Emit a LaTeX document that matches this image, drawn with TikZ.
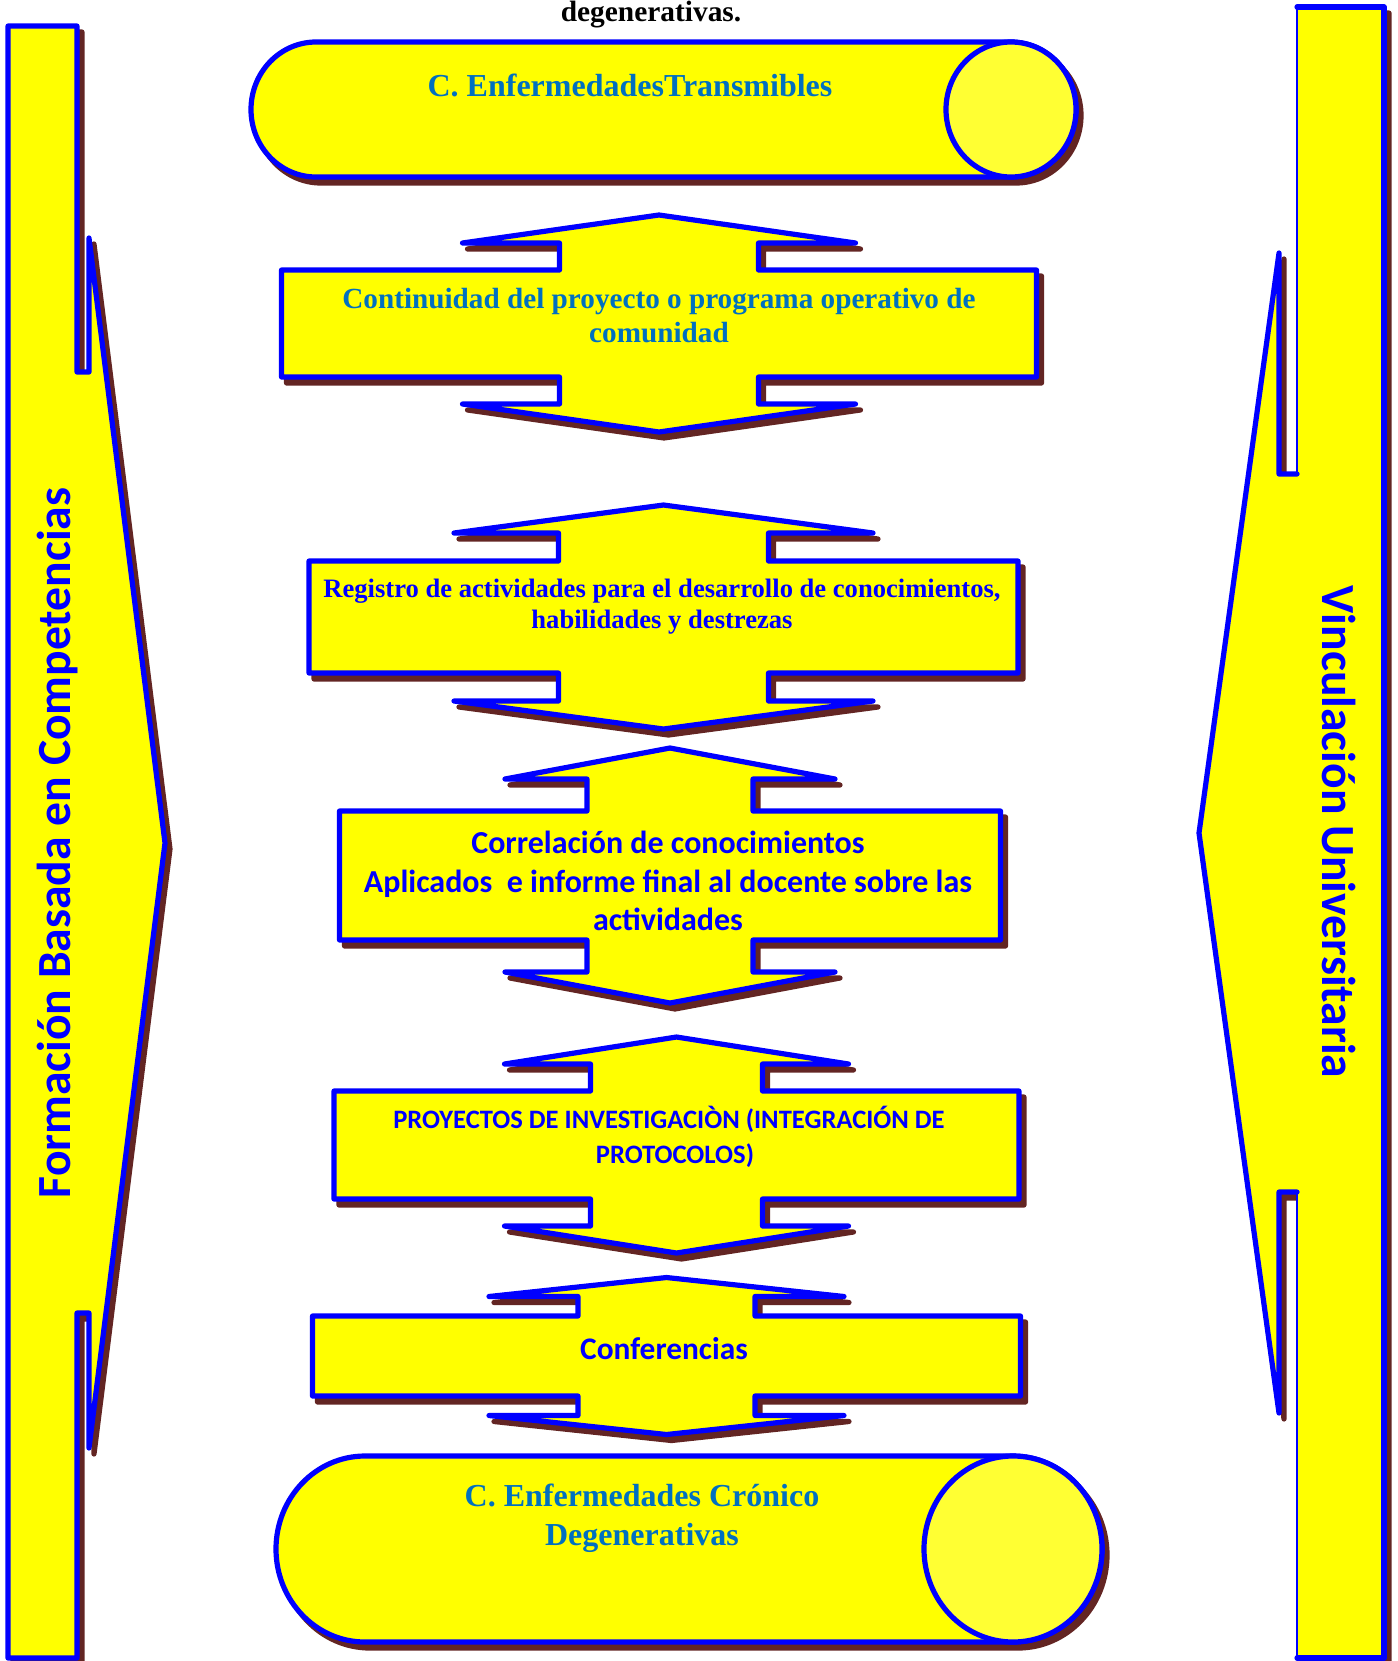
\documentclass[tikz,border=0pt]{standalone}
\usepackage{fontspec}
\setmainfont{Liberation Serif}
\newfontfamily\calib{Carlito}
\definecolor{bblue}{HTML}{0000FF}
\definecolor{tealb}{HTML}{0070C0}
\definecolor{shad}{HTML}{632523}
\definecolor{yel}{HTML}{FFFF00}
\definecolor{yellt}{HTML}{FFFF33}
\tikzset{
  shp/.style={fill=yel, draw=bblue, line width=2.6pt, line join=round, line cap=round},
  shd/.style={fill=shad, draw=shad, line width=2.6pt, line join=round, line cap=round, shift={(5,6)}},
  serifB/.style={font=\bfseries\fontsize{#1}{#1}\selectfont, inner sep=0pt, anchor=base},
  sansB/.style={font=\calib\bfseries\fontsize{#1}{#1}\selectfont, inner sep=0pt, anchor=base},
}
% up-down arrow callout: cx cy stemhw winghw boxhw boxhh d2 d1
\newcommand\udarrow[8]{%
  \pgfmathsetmacro\cX{#1}\pgfmathsetmacro\cY{#2}%
  \pgfmathsetmacro\xsl{#1-#3}\pgfmathsetmacro\xsr{#1+#3}%
  \pgfmathsetmacro\xwl{#1-#4}\pgfmathsetmacro\xwr{#1+#4}%
  \pgfmathsetmacro\xbl{#1-#5}\pgfmathsetmacro\xbr{#1+#5}%
  \pgfmathsetmacro\ybt{#2-#6}\pgfmathsetmacro\ybb{#2+#6}%
  \pgfmathsetmacro\ywt{#2-#6-#7}\pgfmathsetmacro\ywb{#2+#6+#7}%
  \pgfmathsetmacro\ytt{#2-#6-#7-#8}\pgfmathsetmacro\ytb{#2+#6+#7+#8}%
  \path[shd] (\cX,\ytt) -- (\xwr,\ywt) -- (\xsr,\ywt) -- (\xsr,\ybt) -- (\xbr,\ybt) -- (\xbr,\ybb) -- (\xsr,\ybb) -- (\xsr,\ywb) -- (\xwr,\ywb) -- (\cX,\ytb) -- (\xwl,\ywb) -- (\xsl,\ywb) -- (\xsl,\ybb) -- (\xbl,\ybb) -- (\xbl,\ybt) -- (\xsl,\ybt) -- (\xsl,\ywt) -- (\xwl,\ywt) -- cycle;
  \path[shp] (\cX,\ytt) -- (\xwr,\ywt) -- (\xsr,\ywt) -- (\xsr,\ybt) -- (\xbr,\ybt) -- (\xbr,\ybb) -- (\xsr,\ybb) -- (\xsr,\ywb) -- (\xwr,\ywb) -- (\cX,\ytb) -- (\xwl,\ywb) -- (\xsl,\ywb) -- (\xsl,\ybb) -- (\xbl,\ybb) -- (\xbl,\ybt) -- (\xsl,\ybt) -- (\xsl,\ywt) -- (\xwl,\ywt) -- cycle;
}
% cylinder: leftcx rightcx cy rx ry
\newcommand\cylinder[5]{%
  \pgfmathsetmacro\ka{0.5523*#4}\pgfmathsetmacro\kb{0.5523*#5}%
  \pgfmathsetmacro\yt{#3-#5}\pgfmathsetmacro\yb{#3+#5}%
  \pgfmathsetmacro\xr{#2+#4}\pgfmathsetmacro\xl{#1-#4}%
  \pgfmathsetmacro\xra{#2+\ka}\pgfmathsetmacro\xla{#1-\ka}%
  \pgfmathsetmacro\yta{#3-\kb}\pgfmathsetmacro\yba{#3+\kb}%
  \path[shd] (#1,\yt) -- (#2,\yt) .. controls (\xra,\yt) and (\xr,\yta) .. (\xr,#3) .. controls (\xr,\yba) and (\xra,\yb) .. (#2,\yb) -- (#1,\yb) .. controls (\xla,\yb) and (\xl,\yba) .. (\xl,#3) .. controls (\xl,\yta) and (\xla,\yt) .. (#1,\yt) -- cycle;
  \path[shp] (#1,\yt) -- (#2,\yt) .. controls (\xra,\yt) and (\xr,\yta) .. (\xr,#3) .. controls (\xr,\yba) and (\xra,\yb) .. (#2,\yb) -- (#1,\yb) .. controls (\xla,\yb) and (\xl,\yba) .. (\xl,#3) .. controls (\xl,\yta) and (\xla,\yt) .. (#1,\yt) -- cycle;
  \path[shp, fill=yellt] (#2,#3) ellipse [x radius=#4, y radius=#5];
}
\begin{document}
\begin{tikzpicture}[x=0.5pt,y=-0.5pt]
\useasboundingbox (0,0) rectangle (1398,1661);

% left callout
\path[shd] (8,26) -- (77,26) -- (77,372) -- (89,372) -- (89,238) -- (165,843) -- (89,1448) -- (89,1313) -- (77,1313) -- (77,1658) -- (8,1658) -- cycle;
\path[shp] (8,26) -- (77,26) -- (77,372) -- (89,372) -- (89,238) -- (165,843) -- (89,1448) -- (89,1313) -- (77,1313) -- (77,1658) -- (8,1658) -- cycle;

% right callout
\path[shd] (1297,7) -- (1384,7) -- (1384,1658) -- (1297,1658) -- (1297,1192) -- (1279,1192) -- (1279,1413) -- (1199,833) -- (1279,253) -- (1279,474) -- (1297,474) -- cycle;
\path[fill=yel] (1297,7) -- (1384,7) -- (1384,1658) -- (1297,1658) -- (1297,1192) -- (1279,1192) -- (1279,1413) -- (1199,833) -- (1279,253) -- (1279,474) -- (1297,474) -- cycle;
\draw[shp, fill=none] (1297,474) -- (1279,474) -- (1279,253) -- (1199,833) -- (1279,1413) -- (1279,1192) -- (1297,1192);
\draw[shp, fill=none] (1297,1658) -- (1384,1658) -- (1384,7) -- (1297,7);
\draw[bblue, line width=0.9pt] (1297,7) -- (1297,474) (1297,1192) -- (1297,1658);

% cylinders
\cylinder{316}{1011}{109.5}{65}{67.5}
\cylinder{365}{1013}{1549}{89}{93}

% arrows
\udarrow{659}{323.5}{99.5}{196.5}{377.5}{53.5}{27}{28}
\udarrow{663.5}{617}{105}{209.5}{354.5}{56}{28}{28}
\udarrow{670}{875.5}{83}{165}{330.5}{64.5}{32}{31}
\udarrow{676.5}{1145}{86}{172}{342.5}{54}{27}{27}
\udarrow{666.5}{1356}{88.5}{177.5}{354}{40}{19.5}{19}

% texts
\node[serifB=14.7] (title) at (651,21) {degenerativas.};
\node[serifB=16, text=tealb] (c1) at (630,96) {C. EnfermedadesTransmibles};
\node[serifB=14.6, text=tealb] (a1l1) at (659,308) {Continuidad del proyecto o programa operativo de};
\node[serifB=14.6, text=tealb] (a1l2) at (659,342) {comunidad};
\node[serifB=13.3, text=bblue] (a2l1) at (662,597) {Registro de actividades para el desarrollo de conocimientos,};
\node[serifB=13.3, text=bblue] (a2l2) at (662,628) {habilidades y destrezas};
\node[sansB=16, text=bblue] (a3l1) at (668,853) {Correlación de conocimientos};
\node[sansB=16, text=bblue] (a3l2) at (668,892) {Aplicados\ \ e informe final al docente sobre las};
\node[sansB=16, text=bblue] (a3l3) at (668,930) {actividades};
\node[sansB=13.3, text=bblue] (a4l1) at (669,1128) {PROYECTOS DE INVESTIGACIÒN (INTEGRACIÓN DE};
\node[sansB=13.3, text=bblue] (a4l2) at (675,1163) {PROTOCOLOS)};
\node[sansB=15.7, text=bblue] (a5l1) at (664,1359) {Conferencias};
\node[serifB=16, text=tealb] (c2l1) at (642,1506) {C. Enfermedades Crónico};
\node[serifB=16, text=tealb] (c2l2) at (642,1545) {Degenerativas};
\node[sansB=23.8, text=bblue, rotate=90] (left) at (70,843) {Formación Basada en Competencias};
\node[sansB=23.8, text=bblue, rotate=-90] (right) at (1322,832) {Vinculación Universitaria};
\end{tikzpicture}
\end{document}
